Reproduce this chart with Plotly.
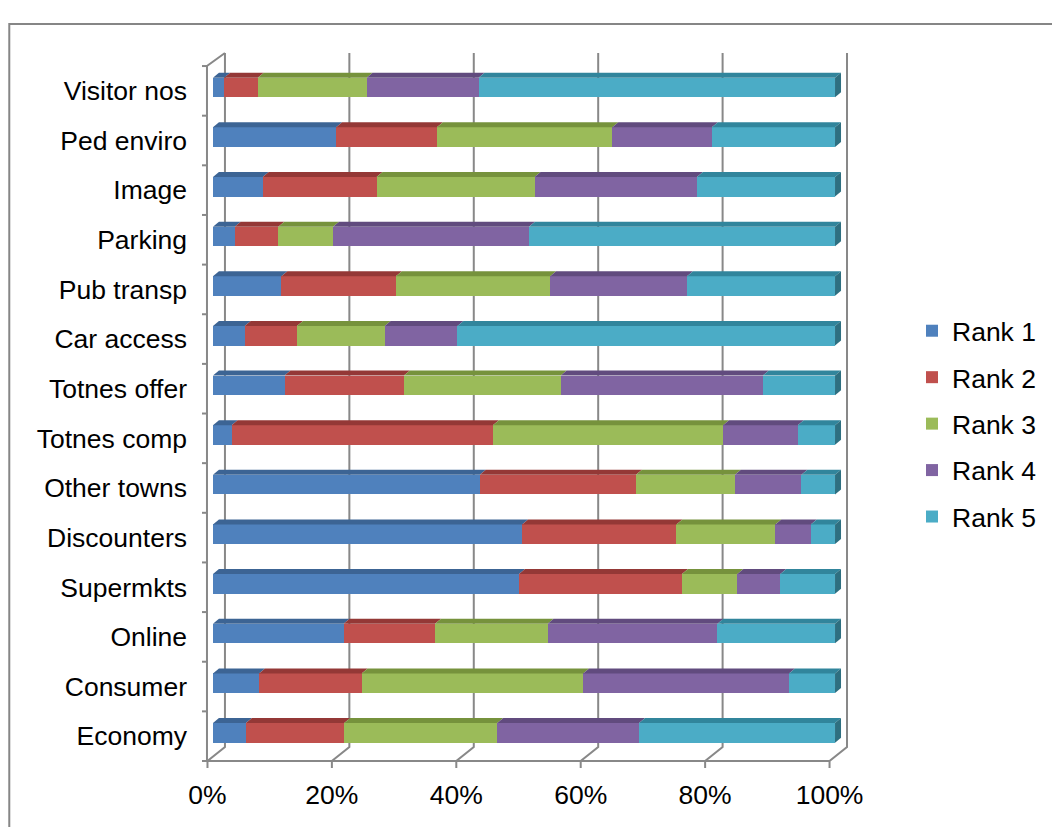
import plotly.graph_objects as go

# Categories from bottom (index 0) to top
categories = ["Economy", "Consumer", "Online", "Supermkts", "Discounters",
              "Other towns", "Totnes comp", "Totnes offer", "Car access",
              "Pub transp", "Parking", "Image", "Ped enviro", "Visitor nos"]

# Share of responses (%) per rank
rank1 = [5.3, 7.4, 21.0, 49.2, 49.7, 42.9, 3.0, 11.5, 5.1, 11.0, 3.5, 8.0, 19.8, 1.8]
rank2 = [15.8, 16.5, 14.7, 26.2, 24.8, 25.1, 42.0, 19.2, 8.4, 18.4, 7.0, 18.3, 16.2, 5.4]
rank3 = [24.6, 35.6, 18.1, 8.9, 15.9, 15.9, 37.0, 25.2, 14.1, 24.8, 8.8, 25.4, 28.2, 17.5]
rank4 = [22.8, 33.1, 27.3, 6.9, 5.7, 10.7, 12.0, 32.5, 11.7, 22.0, 31.5, 26.1, 16.0, 18.0]
rank5 = [31.5, 7.4, 18.9, 8.8, 3.9, 5.4, 6.0, 11.6, 60.7, 23.8, 49.2, 22.2, 19.8, 57.3]

series_names = ["Rank 1", "Rank 2", "Rank 3", "Rank 4", "Rank 5"]
series_values = [rank1, rank2, rank3, rank4, rank5]
face_colors = ["#4F81BD", "#C0504D", "#9BBB59", "#8064A2", "#4BACC6"]
top_colors = ["#3C6494", "#943836", "#76923C", "#614B7E", "#31859C"]
side_color = "#2E6F80"

x_ticks = [0, 20, 40, 60, 80, 100]
x_tick_text = ["0%", "20%", "40%", "60%", "80%", "100%"]

FONT = "Liberation Sans, Arial, sans-serif"
FONT_SIZE = 26.5
GRID = "#888888"
W, H = 1052, 827

# Plot box in pixels and the pixel scale of the data axes
L, R, T, B = 194, 855, 48, 772
X0_PX, PX_PER_PCT = 213.0, 6.23
Y_FRONT_PX, PX_PER_CAT = 761.0, 49.64


def xd(px):
    return (px - X0_PX) / PX_PER_PCT


def yd(py):
    return -0.5 + (Y_FRONT_PX - py) / PX_PER_CAT


def xp(px):
    return (px - L) / (R - L)


def yp(py):
    return (B - py) / (B - T)


# Pseudo-3D geometry (data units)
BAR_OFFSET, BAR_WIDTH = -0.13, 0.395
BAR_DX, BAR_DY = 6.0 / PX_PER_PCT, 5.0 / PX_PER_CAT
FRONT_DX = xd(207.5)          # front plane of the walls / floor
BACK_DX = xd(225.0)           # back wall
WALL_TOP = yd(53)
WALL_BOTTOM = yd(747)
FLOOR_FRONT = yd(761)
TICK_BOTTOM = yd(768)

n_cat = len(categories)
ypos = list(range(n_cat))

fig = go.Figure()
for name, vals, col in zip(series_names, series_values, face_colors):
    fig.add_trace(go.Bar(
        y=ypos, x=vals, orientation="h", name=name, legendgroup=name,
        marker=dict(color=col, line=dict(width=0)),
        offset=BAR_OFFSET, width=BAR_WIDTH,
    ))

shapes = []
line_style = dict(color=GRID, width=2)

# Back-wall gridlines running down into the floor
for v in x_ticks:
    path = (f"M {v + BACK_DX},{WALL_TOP} L {v + BACK_DX},{WALL_BOTTOM} "
            f"L {v + FRONT_DX},{FLOOR_FRONT} L {v + FRONT_DX},{TICK_BOTTOM}")
    shapes.append(dict(type="path", path=path, xref="x", yref="y",
                       line=line_style, layer="below"))

# Front floor edge
shapes.append(dict(type="line", xref="x", yref="y",
                   x0=FRONT_DX, x1=100 + FRONT_DX, y0=FLOOR_FRONT, y1=FLOOR_FRONT,
                   line=line_style, layer="below"))

# Left category axis with its top connector to the back wall
left_x = xd(207)
shapes.append(dict(type="path", xref="x", yref="y",
                   path=(f"M {BACK_DX},{WALL_TOP} L {left_x},{yd(66)} "
                         f"L {left_x},{FLOOR_FRONT}"),
                   line=line_style, layer="below"))
for k in range(n_cat + 1):
    yy = -0.5 + k
    shapes.append(dict(type="line", xref="x", yref="y",
                       x0=xd(202), x1=left_x, y0=yy, y1=yy,
                       line=line_style, layer="below"))

# Top faces of every segment and the end face of each bar
for i in range(n_cat):
    y_bot = i + BAR_OFFSET
    y_top = y_bot + BAR_WIDTH
    start = 0.0
    for vals, tcol in zip(series_values, top_colors):
        end = start + vals[i]
        path = (f"M {start},{y_top} L {end},{y_top} "
                f"L {end + BAR_DX},{y_top + BAR_DY} L {start + BAR_DX},{y_top + BAR_DY} Z")
        shapes.append(dict(type="path", path=path, xref="x", yref="y",
                           fillcolor=tcol, line=dict(width=0), layer="above"))
        start = end
    path = (f"M {start},{y_bot} L {start},{y_top} "
            f"L {start + BAR_DX},{y_top + BAR_DY} L {start + BAR_DX},{y_bot + BAR_DY} Z")
    shapes.append(dict(type="path", path=path, xref="x", yref="y",
                       fillcolor=side_color, line=dict(width=0), layer="above"))

# Chart frame
shapes.append(dict(type="rect", xref="paper", yref="paper",
                   x0=xp(9), x1=xp(1070), y0=yp(24), y1=yp(850),
                   line=dict(color="#868686", width=2), fillcolor="rgba(0,0,0,0)",
                   layer="below"))

fig.update_layout(
    width=W, height=H,
    margin=dict(l=L, r=W - R, t=T, b=H - B, pad=0),
    paper_bgcolor="white", plot_bgcolor="white",
    barmode="stack",
    font=dict(family=FONT, size=FONT_SIZE, color="black"),
    xaxis=dict(range=[xd(L), xd(R)], tickvals=[v + FRONT_DX for v in x_ticks],
               ticktext=x_tick_text, showgrid=False, zeroline=False,
               showline=False, ticks="", ticklabelstandoff=4,
               fixedrange=True),
    yaxis=dict(range=[yd(B), yd(T)], tickvals=ypos, ticktext=categories,
               showgrid=False, zeroline=False, showline=False, ticks="",
               ticklabelstandoff=6, fixedrange=True),
    legend=dict(x=xp(912), y=yp(307), xanchor="left", yanchor="top",
                traceorder="grouped", tracegroupgap=9,
                bgcolor="rgba(0,0,0,0)",
                font=dict(family=FONT, size=FONT_SIZE, color="black")),
    shapes=shapes,
)

fig.write_html("out.html")
